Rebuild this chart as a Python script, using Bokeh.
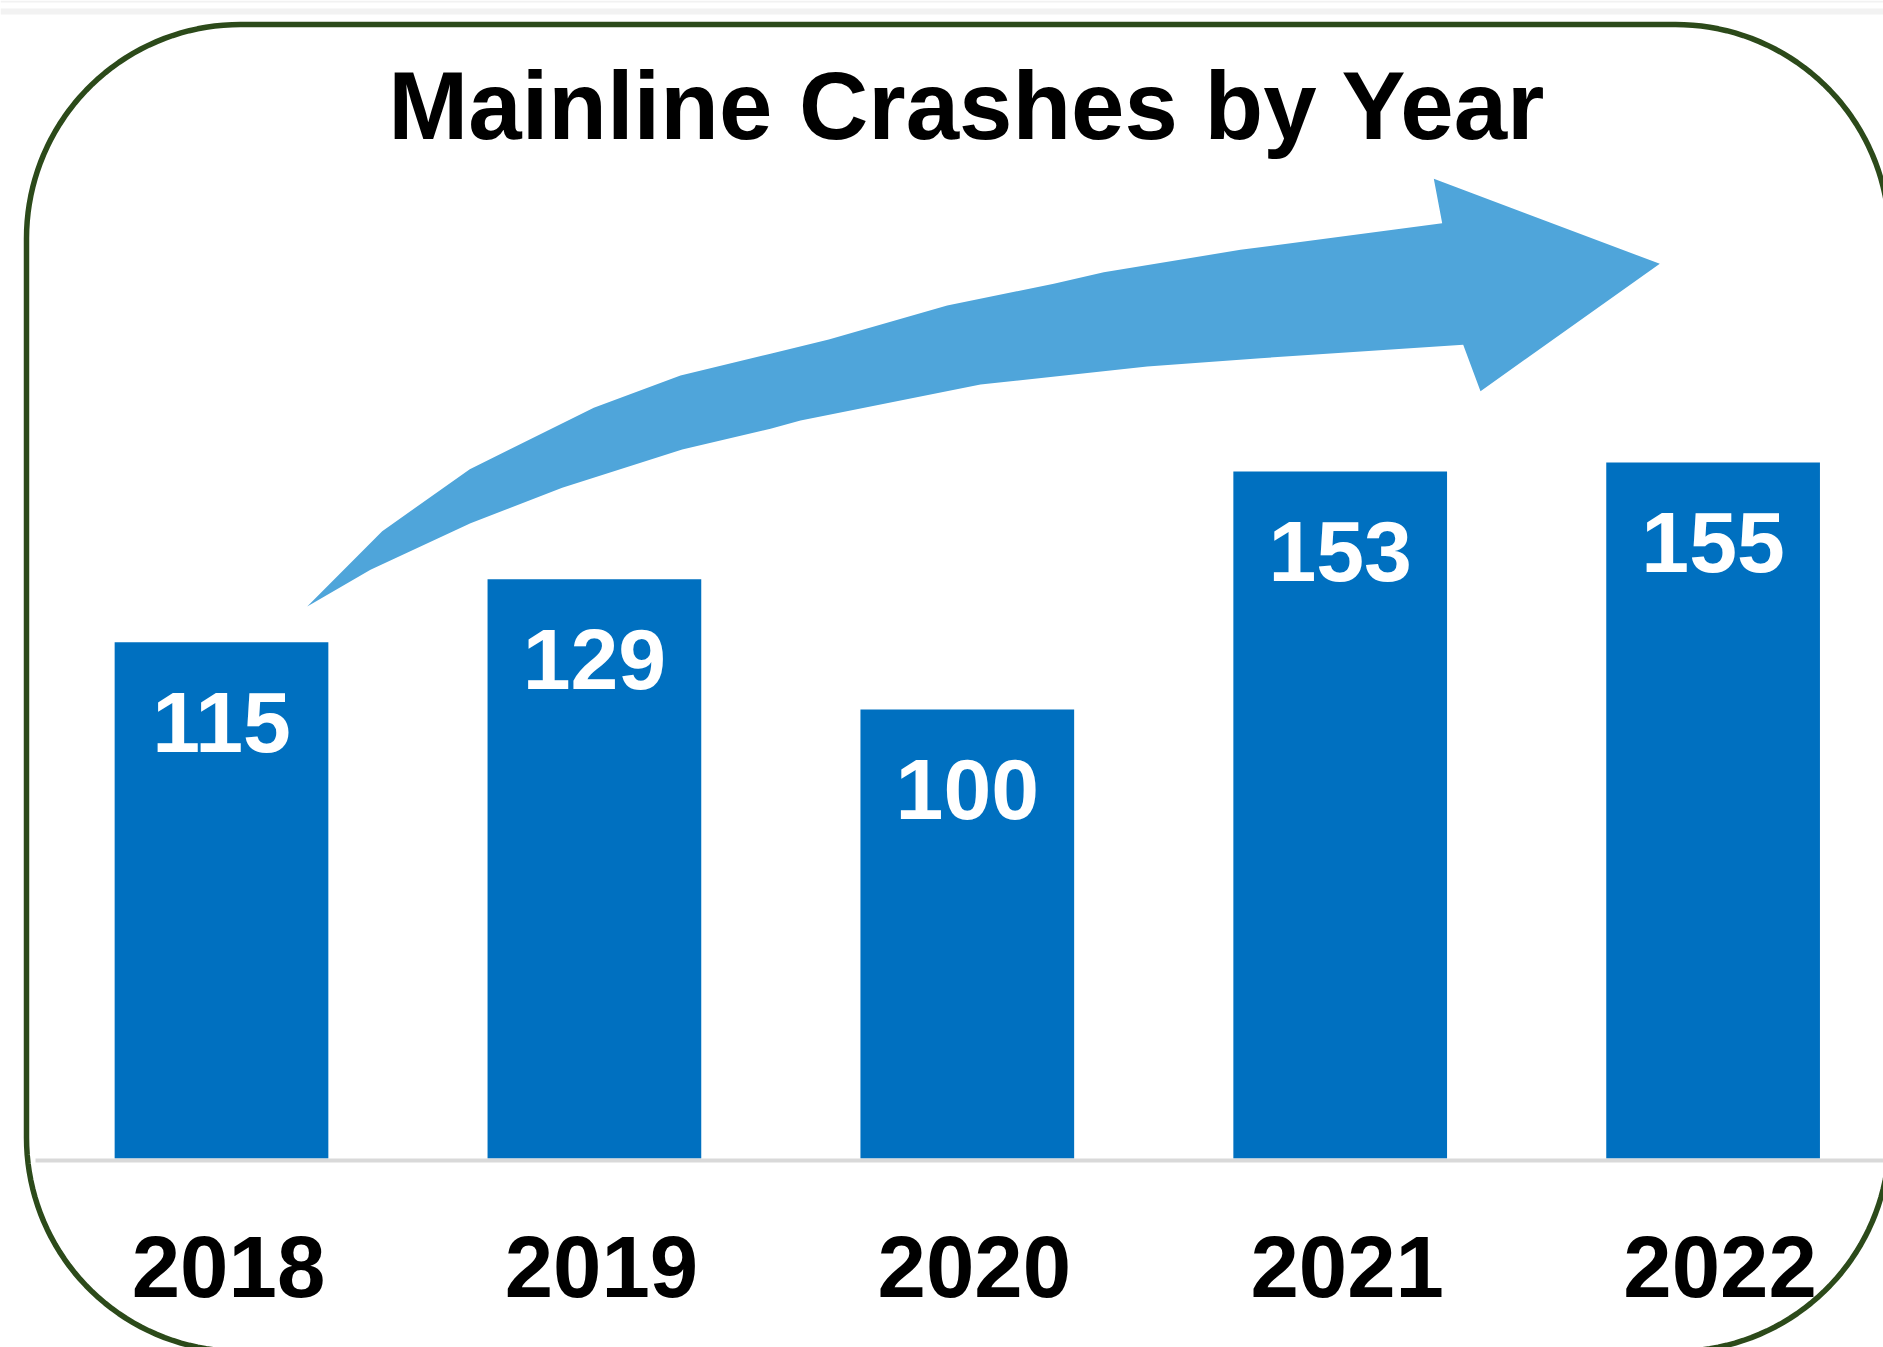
import numpy as np
from bokeh.plotting import figure
from bokeh.models import Range1d, ColumnDataSource
from bokeh.core.properties import value
from bokeh.embed import file_html
from bokeh.resources import INLINE

# ---- data ----
years = ["2018", "2019", "2020", "2021", "2022"]
crashes = [115, 129, 100, 153, 155]
title_text = "Mainline Crashes by Year"

# ---- layout helpers (pixel -> data) ----
W, H = 1883, 1347
X0, DX = 221.0, 372.9      # px of first category centre, px per category
Y0, DY = 1158.0, 4.49      # px of zero line, px per crash

def xd(px):
    return (np.asarray(px, dtype=float) - X0) / DX

def yd(py):
    return (Y0 - np.asarray(py, dtype=float)) / DY

FONT = value("Liberation Sans")

p = figure(width=W, height=H, output_backend="svg", toolbar_location=None,
           x_range=Range1d(float(xd(0)), float(xd(W))),
           y_range=Range1d(float(yd(H)), float(yd(0))),
           min_border=0, min_border_left=0, min_border_right=0,
           min_border_top=0, min_border_bottom=0)
p.axis.visible = False
p.xaxis.visible = False
p.yaxis.visible = False
p.grid.visible = False
p.outline_line_color = None
p.background_fill_color = "white"
p.border_fill_color = "white"

# light strips at the very top
p.quad(left=[float(xd(0))] * 2, right=[float(xd(W))] * 2,
       top=[float(yd(0)), float(yd(8))], bottom=[float(yd(2)), float(yd(14))],
       fill_color="#F2F2F2", line_color=None)

# rounded border
L, T, R, B, RAD = 26.0, 24.0, 1889.0, 1351.0, 214.0
def arc(cx, cy, a0, a1, n=40):
    a = np.linspace(np.radians(a0), np.radians(a1), n)
    return cx + RAD * np.cos(a), cy + RAD * np.sin(a)
segs = [arc(L + RAD, T + RAD, 180, 270), arc(R - RAD, T + RAD, 270, 360),
        arc(R - RAD, B - RAD, 0, 90), arc(L + RAD, B - RAD, 90, 180)]
bx = np.concatenate([s[0] for s in segs] + [segs[0][0][:1]])
by = np.concatenate([s[1] for s in segs] + [segs[0][1][:1]])
p.line(xd(bx), yd(by), line_color="#2C4A1A", line_width=5.5)

# curved trend arrow (decorative shape, pixel outline)
arrow_px = [(306.7, 606), (381.7, 530.7), (469.3, 468.7), (593.3, 407.3), (680, 375),
            (770, 353.3), (828.3, 339), (946.7, 305), (1053.3, 283.3), (1103.3, 271.7),
            (1240, 249.3), (1441.7, 222.7), (1433.3, 178.3), (1659.3, 263.3),
            (1480, 390.7), (1462.7, 344.3), (1260, 357.7), (1146.7, 366), (980, 384),
            (800, 420), (770, 428.3), (681.7, 449), (561.7, 487.3), (470, 522.7),
            (370, 569.3)]
ax = [a[0] for a in arrow_px]
ay = [a[1] for a in arrow_px]
p.patch(xd(ax), yd(ay), fill_color="#4FA5DA", line_color=None)

# bars
idx = list(range(len(years)))
src = ColumnDataSource(dict(x=idx, top=crashes, years=years,
                            lab=[str(v) for v in crashes],
                            laby=[v - 80.0 / DY for v in crashes]))
p.vbar(x="x", top="top", bottom=0, width=213.7 / DX, source=src,
       fill_color="#0070C0", line_color=None)

# baseline
p.quad(left=[float(xd(35))], right=[float(xd(W))], top=[float(yd(1158))],
       bottom=[float(yd(1162))], fill_color="#D9D9D9", line_color=None)

# value labels
p.text(x="x", y="laby", text="lab", source=src, text_color="white",
       text_font=FONT, text_font_style="bold", text_font_size="86px",
       text_align="center", text_baseline="alphabetic")

# year labels
yr_src = ColumnDataSource(dict(x=[i + 7.0 / DX for i in idx],
                               y=[float(yd(1266))] * len(years), t=years))
p.text(x="x", y="y", text="t", source=yr_src, text_color="black",
       text_font=FONT, text_font_style="bold", text_font_size="87px",
       text_align="center", text_baseline="alphabetic")

# title
p.text(x=[float(xd(966.7))], y=[float(yd(105))], text=[title_text],
       text_color="black", text_font=FONT, text_font_style="bold",
       text_font_size="96px", text_align="center", text_baseline="alphabetic")

open("out.html", "w").write(file_html(p, INLINE))
